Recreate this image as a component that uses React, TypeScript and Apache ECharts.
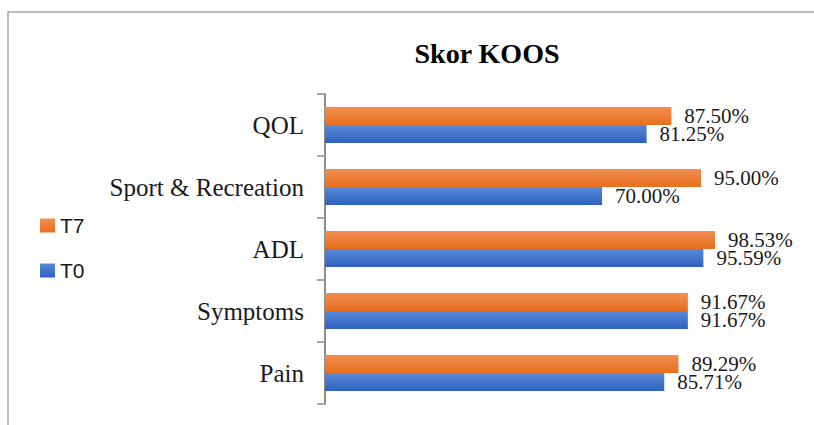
import React, { useEffect, useRef } from "react";
import * as echarts from "echarts";

const categories = ["Pain", "Symptoms", "ADL", "Sport & Recreation", "QOL"];
const t0Values = [85.71, 91.67, 95.59, 70.0, 81.25];
const t7Values = [89.29, 91.67, 98.53, 95.0, 87.5];
const title = "Skor KOOS";

export default function App() {
  const ref = useRef<HTMLDivElement>(null);
  useEffect(() => {
    document.body.style.margin = "0";
    const chart = echarts.init(ref.current!, null, { renderer: "svg" });
    const orange = new echarts.graphic.LinearGradient(0, 0, 0, 1, [
      { offset: 0, color: "#F28E52" },
      { offset: 1, color: "#E76F1C" },
    ]);
    const blue = new echarts.graphic.LinearGradient(0, 0, 0, 1, [
      { offset: 0, color: "#5A89D8" },
      { offset: 1, color: "#2E62BF" },
    ]);
    const labelStyle = {
      show: true,
      position: "right" as const,
      distance: 13,
      fontFamily: "Liberation Serif",
      fontSize: 21,
      color: "#1a1a1a",
      formatter: (p: any) => Number(p.value).toFixed(2) + "%",
    };
    chart.setOption({
      animation: false,
      backgroundColor: "#fff",
      title: {
        text: title,
        left: 482,
        textAlign: "center",
        top: 34,
        textStyle: {
          fontFamily: "Liberation Serif",
          fontWeight: "bold",
          fontSize: 28,
          color: "#000",
        },
      },
      graphic: [
        {
          type: "rect",
          shape: { x: 8, y: 12, width: 900, height: 600 },
          style: { fill: "none", stroke: "#a6a6a6", lineWidth: 1.5 },
          silent: true,
        },
      ],
      legend: {
        orient: "vertical",
        left: 35,
        top: 210,
        data: ["T7", "T0"],
        itemWidth: 15,
        itemHeight: 14,
        itemGap: 24,
        icon: "rect",
        textStyle: {
          fontFamily: "Liberation Sans",
          fontSize: 21,
          color: "#1a1a1a",
        },
      },
      grid: { left: 325, top: 94, height: 310, width: 475 },
      xAxis: { type: "value", min: 0, max: 120, show: false },
      yAxis: {
        type: "category",
        data: categories,
        axisLine: { lineStyle: { color: "#8c8c8c", width: 2 } },
        axisTick: { show: true, length: 8, lineStyle: { color: "#a6a6a6", width: 2 } },
        axisLabel: {
          margin: 21,
          fontFamily: "Liberation Serif",
          fontSize: 25,
          color: "#1a1a1a",
        },
        splitLine: { show: false },
      },
      series: [
        {
          name: "T7",
          type: "bar",
          data: t7Values,
          itemStyle: { color: orange },
          barGap: "0%",
          barCategoryGap: "42%",
          label: labelStyle,
        },
        {
          name: "T0",
          type: "bar",
          data: t0Values,
          itemStyle: { color: blue },
          barGap: "0%",
          barCategoryGap: "42%",
          label: labelStyle,
        },
      ],
    });
    return () => chart.dispose();
  }, []);
  return <div ref={ref} style={{ width: 814, height: 425 }} />;
}
